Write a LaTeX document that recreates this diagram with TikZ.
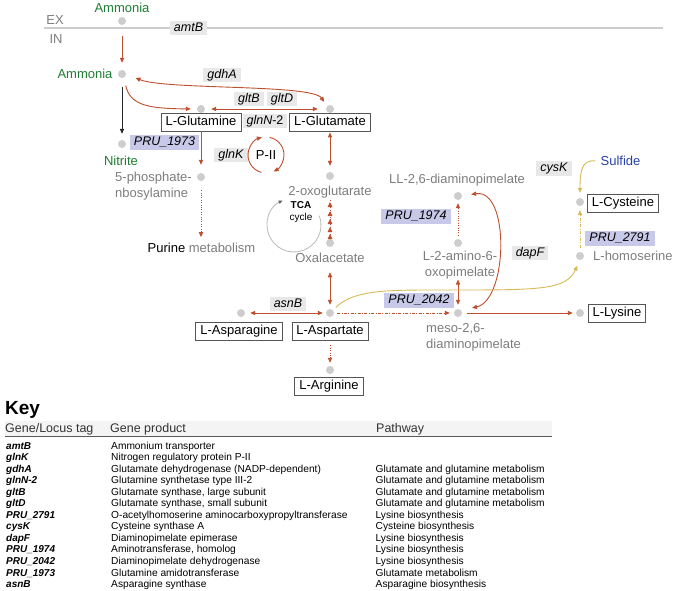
\documentclass[tikz,border=0pt]{standalone}
\usepackage{fontspec}
\setmainfont{Liberation Sans}
\usetikzlibrary{arrows.meta}
\definecolor{rr}{RGB}{190,78,44}
\definecolor{grn}{RGB}{30,125,50}
\definecolor{tg}{RGB}{125,125,125}
\definecolor{dotc}{RGB}{205,205,205}
\definecolor{genec}{RGB}{232,232,232}
\definecolor{pruc}{RGB}{200,200,232}
\definecolor{yc}{RGB}{215,185,85}
\definecolor{blu}{RGB}{40,65,170}
\definecolor{boxc}{RGB}{85,85,85}
\definecolor{memc}{RGB}{205,205,205}
\definecolor{hdrc}{RGB}{244,244,244}
\definecolor{tcac}{RGB}{185,185,185}
\tikzset{
  lbl/.style={font=\fontsize{13}{16}\selectfont, inner sep=0pt},
  ctr/.style={text height=9.3pt, text depth=0pt},
  gtxt/.style={lbl, ctr, text=tg},
  grtxt/.style={lbl, ctr, text=grn},
  dot/.style={circle, fill=dotc, inner sep=0pt, minimum size=8pt},
  mbox/.style={draw=boxc, line width=0.8pt, font=\fontsize{13}{16}\selectfont, text height=9.3pt, text depth=2.7pt, inner xsep=4.5pt, inner ysep=3pt},
  gene/.style={fill=genec, font=\fontsize{12.5}{15}\selectfont\itshape, text height=9pt, text depth=2.6pt, inner xsep=4pt, inner ysep=1.6pt},
  pru/.style={gene, fill=pruc},
  rline/.style={draw=rr, line width=0.9pt},
  rarr/.style={rline, ->},
  rdbl/.style={rline, <->},
  yarr/.style={draw=yc, line width=0.9pt, ->},
  dotline/.style={dash pattern=on 1pt off 1.4pt},
  dashdotline/.style={dash pattern=on 3pt off 1.4pt on 1pt off 1.4pt},
  rowtag/.style={font=\fontsize{10}{12}\selectfont\bfseries\itshape, anchor=base west, inner sep=0pt},
  rowtxt/.style={font=\fontsize{10.2}{12}\selectfont, anchor=base west, inner sep=0pt},
  hdr/.style={font=\fontsize{12.5}{15}\selectfont, text=black!80, anchor=base west, inner sep=0pt},
}
\newcommand\keyrowA[3]{%
  \node[rowtag] (tag#1) at (6,{449.3+11.52*(#1-1)}) {#2};
  \node[rowtxt] (prod#1) at (111,{449.3+11.52*(#1-1)}) {#3};}
\newcommand\keyrowB[4]{%
  \keyrowA{#1}{#2}{#3}%
  \node[rowtxt] (path#1) at (375.5,{449.3+11.52*(#1-1)}) {#4};}
\begin{document}
\begin{tikzpicture}[x=1pt,y=-1pt, >={Triangle[length=5pt,width=4.2pt]}]
\useasboundingbox (0,0) rectangle (675,591);

% membrane
\coordinate (memL) at (44,28);
\coordinate (memR) at (663,28);
\draw[memc, line width=1.2pt] (memL) -- (memR);
\node[gtxt] (ex) at (55,20) {EX};
\node[gtxt] (in) at (56,39) {IN};
\node[gene] (amtB) at (188.5,28) {amtB};

% ammonia
\node[grtxt] (ammEx) at (122,8) {Ammonia};
\node[dot] (dAmmEx) at (122,21) {};
\node[grtxt] (amm) at (85,74) {Ammonia};
\node[dot] (dAmm) at (122,74) {};
\draw[rarr, shorten <=11pt, shorten >=7pt] (dAmmEx) -- (dAmm);

% glutamine / glutamate
\node[dot] (dGln) at (201,109) {};
\node[dot] (dGlu) at (330,109) {};
\node[mbox] (glnBox) at (201,122) {L-Glutamine};
\node[mbox] (gluBox) at (330,122) {L-Glutamate};
\node[gene] (glnN) at (265,121) {glnN{\upshape -2}};
\node[gene] (gdhA) at (222,75) {gdhA};
\node[gene] (gltB) at (249,99) {gltB};
\node[gene] (gltD) at (282,99) {gltD};
\draw[rdbl, shorten <=10pt, shorten >=5pt] (dAmm.east) .. controls (165,90) and (312,84) .. (dGlu.135);
\draw[rarr, shorten <=8pt, shorten >=6pt] (dAmm.-60) .. controls (130,106) and (150,108.5) .. (dGln.west);
\draw[rdbl, shorten <=6pt, shorten >=8pt] (dGln) -- (dGlu);

% nitrite
\node[dot] (dNit) at (122,144) {};
\node[grtxt] (nit) at (121,161) {Nitrite};
\draw[draw=black!85, line width=0.9pt, ->, shorten <=9pt, shorten >=6pt] (dAmm) -- (dNit);
\node[pru] (p1973) at (164.5,142.5) {PRU\_1973};

% glnK / P-II
\node[gene] (glnK) at (231,155) {glnK};
\node[lbl, ctr] (pii) at (266,155) {P-II};
\draw[rarr] ([shift={(255:18pt)}]pii.center) arc[start angle=255, end angle=103, radius=18pt];
\draw[rarr] ([shift={(78:18pt)}]pii.center) arc[start angle=78, end angle=-65, radius=18pt];

% purine branch
\node[dot] (dPRA) at (201,177) {};
\node[lbl, text=tg, align=left, anchor=west] (pra) at (115,186.2) {5-phosphate-\\nbosylamine};
\draw[rarr, shorten >=8pt] (glnBox.south) -- (dPRA);
\node[lbl, ctr] (purine) at (201.5,248) {Purine \textcolor{tg}{metabolism}};
\draw[rarr, dotline, shorten <=9pt, shorten >=6pt] (dPRA) -- (dPRA |- purine.north);

% TCA
\node[dot] (d2og) at (330,176) {};
\node[gtxt] (og) at (330,191) {2-oxoglutarate};
\draw[rdbl, shorten <=1pt, shorten >=6pt] (gluBox.south) -- (d2og);
\coordinate (tcaC) at (294,225);
\draw[tcac, line width=0.8pt, -{Triangle[length=4pt,width=3.5pt,color=black!60]}] ([shift={(20:27pt)}]tcaC) arc[start angle=20, end angle=-245, radius=27pt];
\node[font=\fontsize{10}{12}\selectfont, align=center, inner sep=0pt] (tca) at (301,212) {\textbf{TCA}\\cycle};
\node[dot] (dOAA) at (330,243) {};
\node[gtxt] (oaa) at (330,258) {Oxalacetate};
\draw[rline, dotline, shorten <=4pt, shorten >=4pt] (dOAA) -- (og.south);
\foreach \yy in {202,211,219,227,234}
  \fill[rr] (330,\yy) -- (332.4,\yy+5) -- (327.6,\yy+5) -- cycle;

% aspartate row
\node[dot] (dAsn) at (241,313) {};
\node[dot] (dAsp) at (330,313) {};
\node[mbox] (asnBox) at (239,331) {L-Asparagine};
\node[mbox] (aspBox) at (330,331) {L-Aspartate};
\node[gene] (asnB) at (288,304) {asnB};
\draw[rdbl, shorten <=9.4pt, shorten >=4pt] (oaa.south) -- (dAsp);
\draw[rdbl, shorten <=5pt, shorten >=3pt] (dAsn) -- (dAsp);
\node[dot] (dArg) at (330,370) {};
\node[mbox] (argBox) at (329,386) {L-Arginine};
\draw[rarr, dotline, shorten <=5pt, shorten >=3pt] (aspBox.south) -- (dArg);

% lysine branch
\node[dot] (dMeso) at (458,313) {};
\node[lbl, text=tg, align=left, anchor=west] (meso) at (426,337.5) {meso-2,6-\\diaminopimelate};
\node[pru] (p2042) at (419,300.5) {PRU\_2042};
\draw[rarr, dashdotline, shorten <=3pt, shorten >=4pt] (dAsp) -- (dMeso);
\node[dot] (dLys) at (580,313) {};
\node[mbox] (lysBox) at (617,313) {L-Lysine};
\draw[rarr, shorten <=5pt, shorten >=3pt] (dMeso) -- (dLys);
\node[dot] (dL2) at (458,243) {};
\node[lbl, text=tg, align=center] (l2) at (460,265.3) {L-2-amino-6-\\oxopimelate};
\draw[rdbl, shorten >=4pt] (l2.south -| dMeso) -- (dMeso);
\node[dot] (dLL) at (458,196) {};
\node[gtxt] (ll) at (457,179) {LL-2,6-diaminopimelate};
\draw[rarr, dotline, shorten <=3pt, shorten >=3pt] (dL2) -- (dLL);
\node[pru] (p1974) at (416,216.5) {PRU\_1974};
\node[gene] (dapF) at (530,253) {dapF};
\draw[rdbl, shorten <=9pt, shorten >=11pt] (dLL.east) .. controls (510,188) and (508,300) .. (dMeso.40);

% homoserine / cysteine
\node[dot] (dHse) at (580,256) {};
\node[lbl, ctr, text=tg, anchor=west] (hse) at (593,256) {L-homoserine};
\node[pru] (p2791) at (620,238.5) {PRU\_2791};
\node[dot] (dCys) at (580,202) {};
\node[mbox] (cysBox) at (623,203) {L-Cysteine};
\node[lbl, ctr, text=blu] (sulf) at (620.5,161) {Sulfide};
\node[gene] (cysK) at (554,168.5) {cysK};
\draw[yarr, shorten <=4pt, shorten >=6pt] (dAsp.45) .. controls (355,289) and (390,290) .. (450,290) .. controls (540,290) and (566,290) .. (dHse.south);
\draw[yarr, dashdotline, shorten <=4pt, shorten >=4pt] (dHse) -- (dCys);
\draw[yarr, shorten <=5pt, shorten >=5pt] (sulf.west) .. controls (582,160) and (580,170) .. (dCys.north);

% key
\node[font=\fontsize{19}{19}\selectfont\bfseries, anchor=base west, inner sep=0pt] (key) at (5,414) {Key};
\fill[hdrc] (5,420.5) rectangle (552,436);
\draw[black!65, line width=1.1pt] (5,436.8) -- (552,436.8);
\node[hdr] (hTag) at (5,432) {Gene/Locus tag};
\node[hdr] (hProd) at (110,432) {Gene product};
\node[hdr] (hPath) at (376,432) {Pathway};
\keyrowA{1}{amtB}{Ammonium transporter}
\keyrowA{2}{glnK}{Nitrogen regulatory protein P-II}
\keyrowB{3}{gdhA}{Glutamate dehydrogenase (NADP-dependent)}{Glutamate and glutamine metabolism}
\keyrowB{4}{glnN-2}{Glutamine synthetase type III-2}{Glutamate and glutamine metabolism}
\keyrowB{5}{gltB}{Glutamate synthase, large subunit}{Glutamate and glutamine metabolism}
\keyrowB{6}{gltD}{Glutamate synthase, small subunit}{Glutamate and glutamine metabolism}
\keyrowB{7}{PRU\_2791}{O-acetylhomoserine aminocarboxypropyltransferase}{Lysine biosynthesis}
\keyrowB{8}{cysK}{Cysteine synthase A}{Cysteine biosynthesis}
\keyrowB{9}{dapF}{Diaminopimelate epimerase}{Lysine biosynthesis}
\keyrowB{10}{PRU\_1974}{Aminotransferase, homolog}{Lysine biosynthesis}
\keyrowB{11}{PRU\_2042}{Diaminopimelate dehydrogenase}{Lysine biosynthesis}
\keyrowB{12}{PRU\_1973}{Glutamine amidotransferase}{Glutamate metabolism}
\keyrowB{13}{asnB}{Asparagine synthase}{Asparagine biosynthesis}
\end{tikzpicture}
\end{document}
